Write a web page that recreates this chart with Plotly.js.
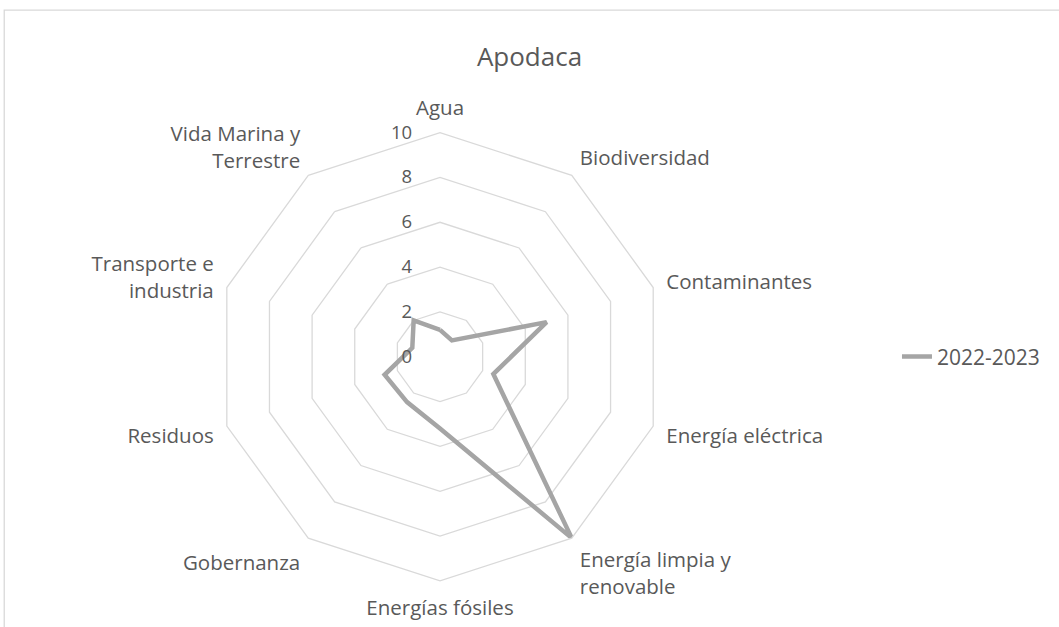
<!DOCTYPE html>
<html>
<head>
<meta charset="utf-8">
<script src="https://cdn.plot.ly/plotly-3.0.1.min.js"></script>
<style>
  html, body { margin: 0; padding: 0; background: #fff; }
  #chart { width: 1059px; height: 627px; }
</style>
</head>
<body>
<div id="chart"></div>
<script>
// categories clockwise from the top
var categories = ["Agua", "Biodiversidad", "Contaminantes", "Energía eléctrica",
    "Energía limpia y renovable", "Energías fósiles", "Gobernanza", "Residuos",
    "Transporte e industria", "Vida Marina y Terrestre"];
var tickLabels = ["Agua", "Biodiversidad", "Contaminantes", "Energía eléctrica",
    "Energía limpia y<br>renovable", "Energías fósiles", "Gobernanza", "Residuos",
    "Transporte e<br>industria", "Vida Marina y<br>Terrestre"];
var values2022 = [1.2, 0.9, 5, 2.5, 10, 3.2, 2.5, 2.6, 1.3, 2];
var seriesName = "2022-2023";

var textColor = "#595959";
var gridColor = "#d9d9d9";

var trace = {
    type: "scatterpolar",
    mode: "lines",
    name: seriesName,
    r: values2022.concat([values2022[0]]),
    theta: categories.concat([categories[0]]),
    line: { color: "#a5a5a5", width: 4.5 },
    showlegend: true
};

var layout = {
    width: 1059,
    height: 627,
    margin: { l: 0, r: 0, t: 0, b: 0 },
    paper_bgcolor: "#fff",
    font: { family: "Open Sans, sans-serif", size: 20, color: textColor },
    title: {
        text: "Apodaca",
        font: { size: 26, color: textColor },
        x: 0.5, xref: "paper", xanchor: "center",
        y: 0.909, yref: "paper", yanchor: "middle"
    },
    polar: {
        domain: { x: [0.2035, 0.6275], y: [0.0735, 0.7885] },
        bgcolor: "#fff",
        gridshape: "linear",
        radialaxis: {
            range: [0, 10],
            dtick: 2,
            angle: 90,
            side: "counterclockwise",
            tickangle: 90,
            showline: false,
            ticks: "outside",
            ticklen: 21,
            tickcolor: "rgba(0,0,0,0)",
            gridcolor: gridColor,
            gridwidth: 1.3,
            tickfont: { size: 18.5, color: textColor }
        },
        angularaxis: {
            direction: "clockwise",
            rotation: 90,
            showgrid: false,
            showline: true,
            linecolor: gridColor,
            linewidth: 1.3,
            ticks: "outside",
            ticklen: 9,
            tickcolor: "rgba(0,0,0,0)",
            tickmode: "array",
            tickvals: categories,
            ticktext: tickLabels,
            tickfont: { size: 20.5, color: textColor }
        }
    },
    legend: {
        x: 0.847, xanchor: "left",
        y: 0.431, yanchor: "middle",
        font: { size: 21, color: textColor },
        bgcolor: "rgba(0,0,0,0)"
    },
    shapes: [{
        type: "rect", xref: "paper", yref: "paper",
        x0: 0.004, x1: 1.01, y0: -0.01, y1: 0.984,
        line: { color: gridColor, width: 1.3 }
    }]
};

Plotly.newPlot("chart", [trace], layout, { displayModeBar: false, staticPlot: true });
</script>
</body>
</html>
